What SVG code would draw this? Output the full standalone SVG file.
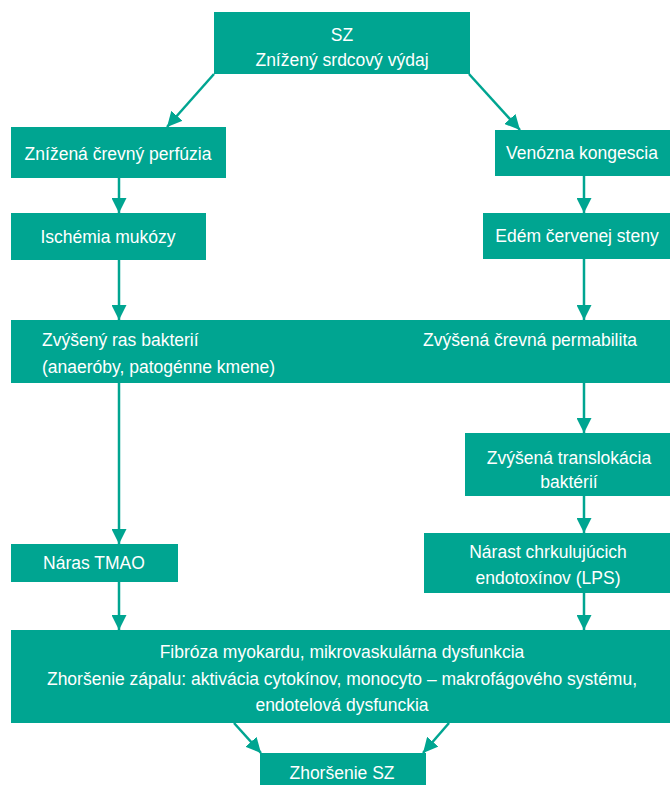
<svg xmlns="http://www.w3.org/2000/svg" width="670" height="785" viewBox="0 0 670 785">
<style>
.box{fill:#00a591}
.t{fill:#fff;font-family:"Liberation Sans",Arial,sans-serif;font-size:17.5px}
.m{text-anchor:middle}
.c{stroke:#00a591;stroke-width:2.5;fill:none}
</style>
<defs>
<marker id="ah" viewBox="0 0 10 10" refX="10" refY="5" markerWidth="6" markerHeight="6" markerUnits="strokeWidth" orient="auto">
<path d="M0,0 L10,5 L0,10 z" fill="#00a591"/>
</marker>
</defs>
<rect width="670" height="785" fill="#fff"/>
<g id="connectors">
<line class="c" x1="214" y1="74" x2="167" y2="127" marker-end="url(#ah)"/>
<line class="c" x1="469" y1="74" x2="520" y2="130" marker-end="url(#ah)"/>
<line class="c" x1="119" y1="178" x2="119" y2="213" marker-end="url(#ah)"/>
<line class="c" x1="584" y1="176" x2="584" y2="213" marker-end="url(#ah)"/>
<line class="c" x1="119" y1="260" x2="119" y2="320" marker-end="url(#ah)"/>
<line class="c" x1="584" y1="259" x2="584" y2="320" marker-end="url(#ah)"/>
<line class="c" x1="119" y1="383" x2="119" y2="544" marker-end="url(#ah)"/>
<line class="c" x1="584" y1="383" x2="584" y2="433" marker-end="url(#ah)"/>
<line class="c" x1="584" y1="496" x2="584" y2="533" marker-end="url(#ah)"/>
<line class="c" x1="119" y1="582" x2="119" y2="630" marker-end="url(#ah)"/>
<line class="c" x1="584" y1="593" x2="584" y2="630" marker-end="url(#ah)"/>
<line class="c" x1="234" y1="723" x2="261" y2="753" marker-end="url(#ah)"/>
<line class="c" x1="449" y1="723" x2="423" y2="753" marker-end="url(#ah)"/>
</g>
<g id="n_sz">
<rect class="box" x="214" y="12" width="256" height="62"/>
<text class="t m" x="342" y="41">SZ</text>
<text class="t m" x="342" y="66">Znížený srdcový výdaj</text>
</g>
<g id="n_perfuzia">
<rect class="box" x="11" y="127" width="215" height="51"/>
<text class="t m" x="118" y="160">Znížená črevný perfúzia</text>
</g>
<g id="n_kongescia">
<rect class="box" x="495" y="130" width="175" height="46"/>
<text class="t m" x="582" y="159">Venózna kongescia</text>
</g>
<g id="n_ischemia">
<rect class="box" x="11" y="213" width="195" height="47"/>
<text class="t m" x="108" y="243">Ischémia mukózy</text>
</g>
<g id="n_edem">
<rect class="box" x="483" y="213" width="187" height="46"/>
<text class="t m" x="577" y="242">Edém červenej steny</text>
</g>
<g id="n_ras">
<rect class="box" x="11" y="320" width="659" height="63"/>
<text class="t" x="42" y="346">Zvýšený ras bakterií</text>
<text class="t" x="42" y="373">(anaeróby, patogénne kmene)</text>
<text class="t" x="423" y="346">Zvýšená črevná permabilita</text>
</g>
<g id="n_translokacia">
<rect class="box" x="465" y="433" width="205" height="63"/>
<text class="t m" x="569" y="464">Zvýšená translokácia</text>
<text class="t m" x="569" y="488">baktérií</text>
</g>
<g id="n_tmao">
<rect class="box" x="11" y="544" width="167" height="38"/>
<text class="t m" x="94" y="569">Náras TMAO</text>
</g>
<g id="n_lps">
<rect class="box" x="424" y="533" width="246" height="60"/>
<text class="t m" x="548" y="558">Nárast chrkulujúcich</text>
<text class="t m" x="548" y="584">endotoxínov (LPS)</text>
</g>
<g id="n_fibroza">
<rect class="box" x="11" y="630" width="659" height="93"/>
<text class="t m" x="342" y="658">Fibróza myokardu, mikrovaskulárna dysfunkcia</text>
<text class="t m" x="342" y="685">Zhoršenie zápalu: aktivácia cytokínov, monocyto – makrofágového systému,</text>
<text class="t m" x="342" y="711">endotelová dysfunckia</text>
</g>
<g id="n_zhorsenie">
<rect class="box" x="260" y="753" width="166" height="32"/>
<text class="t m" x="342" y="779">Zhoršenie SZ</text>
</g>
</svg>
